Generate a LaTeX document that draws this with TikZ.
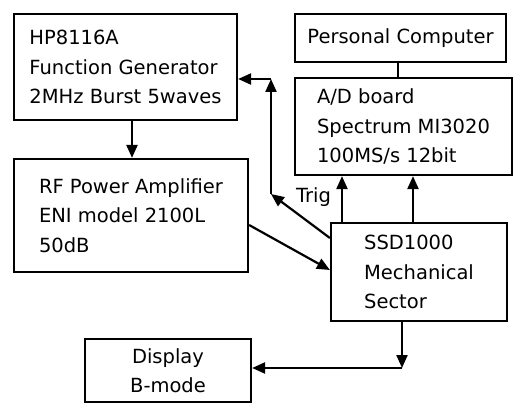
\documentclass[tikz,border=0pt]{standalone}
\usepackage{fontspec}
\setmainfont{DejaVu Sans}
\usetikzlibrary{arrows.meta}
\begin{document}
\begin{tikzpicture}[x=1pt,y=-1pt,line width=2.2pt,
  lbl/.style={font=\fontsize{19.5}{29.5}\selectfont},
  box/.style={draw,rectangle,inner sep=0pt,align=left,lbl},
  arr/.style={-{Triangle[length=13pt,width=11pt]}}]
\useasboundingbox (0,0) rectangle (516,403);
\node[box,minimum width=223,minimum height=106] (hp) at (125.5,67)
  {HP8116A\\Function Generator\\2MHz Burst 5waves};
\node[box,minimum width=234,minimum height=113] (rf) at (131,215.5)
  {RF Power Amplifier\\ENI model 2100L\\50dB};
\node[box,minimum width=211,minimum height=48] (pc) at (400.5,38)
  {Personal Computer};
\node[box,minimum width=217,minimum height=97] (ad) at (403.5,126.5)
  {A/D board\\Spectrum MI3020\\100MS/s 12bit};
\node[box,minimum width=176,minimum height=98] (ssd) at (419,272)
  {SSD1000\\Mechanical\\Sector};
\node[box,align=center,minimum width=166,minimum height=63] (disp) at (168,370.5)
  {Display\\B-mode};
\node[lbl,anchor=base west,inner sep=0pt] (trig) at (295,203) {Trig};
\coordinate (t1) at (271,194);
\coordinate (t2) at (271,79);
\coordinate (c3) at (402,368);
% connectors
\draw[arr] ([xshift=6.5pt]hp.south) -- ([xshift=6.5pt]hp.south |- rf.north);
\draw ([xshift=-2.5pt]pc.south) -- ([xshift=-2.5pt]pc.south |- ad.north);
\draw[arr] ([xshift=-77pt]ssd.north) -- ([xshift=-77pt]ssd.north |- ad.south);
\draw[arr] ([xshift=-6pt]ssd.north) -- ([xshift=-6pt]ssd.north |- ad.south);
\draw[arr] ([yshift=34pt]ssd.west) -- (t1);
\draw[arr] (t1) -- (t2);
\draw[arr] (t2) -- (t2 -| hp.east);
\draw[arr] ([yshift=-9.5pt]rf.east) -- ([yshift=2pt]ssd.west);
\draw[arr] ([xshift=-17pt]ssd.south) -- (c3);
\draw[arr] (c3) -- (c3 -| disp.east);
\end{tikzpicture}
\end{document}
